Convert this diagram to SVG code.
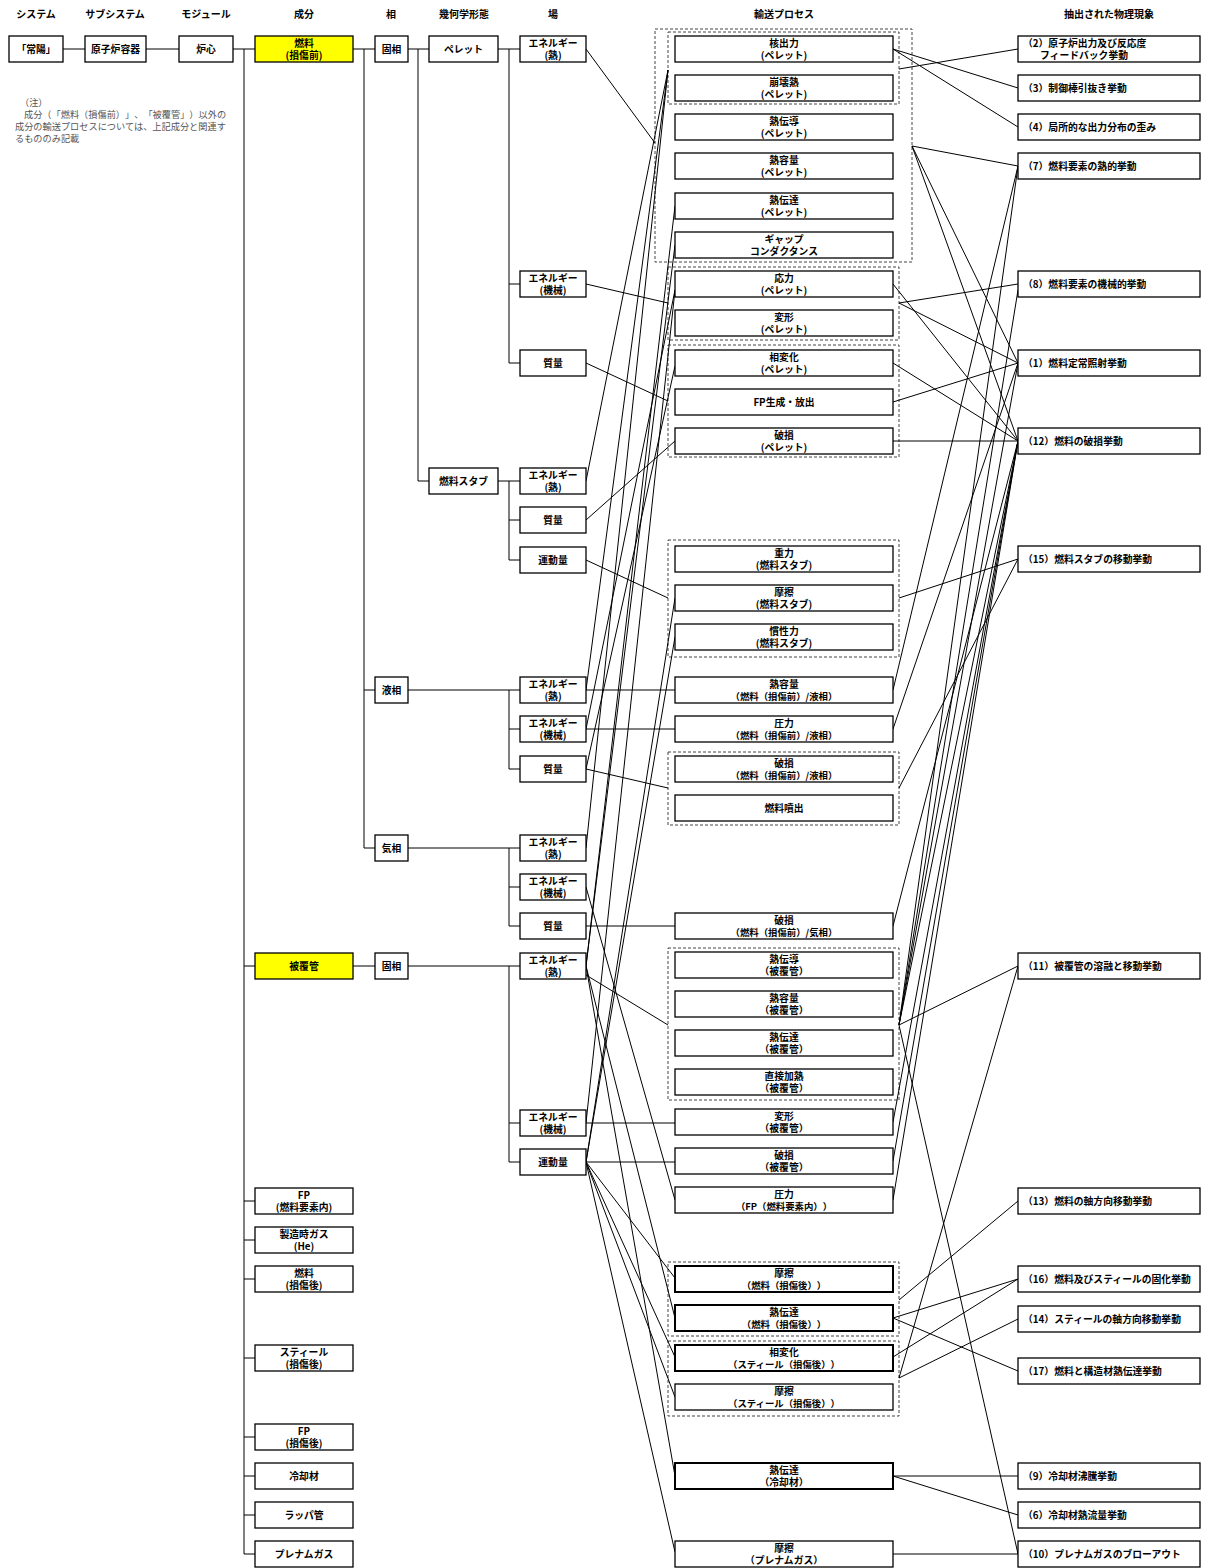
<svg xmlns="http://www.w3.org/2000/svg" width="1206" height="1568" viewBox="0 0 1206 1568">
<style>
.b{fill:#fff;stroke:#000;stroke-width:1.3}
.y{fill:#ffff00;stroke:#000;stroke-width:1.3}
.bt{fill:#fff;stroke:#000;stroke-width:2}
.d{fill:none;stroke:#444;stroke-width:1;stroke-dasharray:3,2}
.c{fill:none;stroke:#000;stroke-width:1}
text{font-family:"Noto Sans CJK JP","Noto Sans CJK SC",sans-serif;font-size:9.8px;font-weight:bold;fill:#000;text-anchor:middle;text-spacing-trim:space-all}
.h{font-size:10px}
.l{text-anchor:start}
.n{font-weight:normal;fill:#555;text-anchor:start;font-size:9.2px}
.s{font-size:9.4px}
</style>
<rect width="1206" height="1568" fill="#fff"/>
<g id="headers">
<text class="h" x="36" y="18">システム</text>
<text class="h" x="115" y="18">サブシステム</text>
<text class="h" x="206" y="18">モジュール</text>
<text class="h" x="304" y="18">成分</text>
<text class="h" x="391" y="18">相</text>
<text class="h" x="464" y="18">幾何学形態</text>
<text class="h" x="553" y="18">場</text>
<text class="h" x="784" y="18">輸送プロセス</text>
<text class="h" x="1109" y="18">抽出された物理現象</text>
</g>
<g id="note">
<text class="n" x="20" y="106">（注）</text>
<text class="n" x="24" y="118">成分（「燃料（損傷前）」、「被覆管」）以外の</text>
<text class="n" x="15" y="130">成分の輸送プロセスについては、上記成分と関連す</text>
<text class="n" x="15" y="142">るもののみ記載</text>
</g>
<g id="groups">
<rect class="d" x="655" y="29" width="257" height="233"/>
<rect class="d" x="668" y="32" width="231" height="72"/>
<rect class="d" x="668" y="267" width="231" height="73"/>
<rect class="d" x="668" y="345" width="231" height="112"/>
<rect class="d" x="668" y="540" width="231" height="117"/>
<rect class="d" x="668" y="752" width="231" height="73"/>
<rect class="d" x="668" y="948" width="231" height="152"/>
<rect class="d" x="668" y="1262" width="231" height="74"/>
<rect class="d" x="668" y="1341" width="231" height="75"/>
</g>
<g id="connectors">
<path class="c" d="M63 49H85M146 49H179M233 49H255M244 49V1554M244 966H255M244 1201H255M244 1240H255M244 1279H255M244 1358H255M244 1437H255M244 1476H255M244 1515H255M244 1554H255"/>
<path class="c" d="M353 49H375M364 49V848M364 690H375M364 848H375M353 966H375"/>
<path class="c" d="M408 49H429M418 49V481M418 481H429"/>
<path class="c" d="M498 49H520M509 49V363M509 284H520M509 363H520M498 481H520M509 481V560M509 520H520M509 560H520"/>
<path class="c" d="M408 690H520M509 690V769M509 729H520M509 769H520M408 848H520M509 848V926M509 887H520M509 926H520"/>
<path class="c" d="M408 966H520M509 966V1162M509 1123H520M509 1162H520"/>
<g id="left-links">
<path class="c" d="M586 49L655 143M586 284L668 303M586 363L668 401M586 481L668 70M586 520L675 441M586 560L668 598"/>
<path class="c" d="M586 690H675M586 690L668 70M586 729H675M586 729L675 290M586 769L668 788M586 769L675 366M586 848L668 70M586 887L675 1200M586 926H675"/>
<path class="c" d="M586 966L675 206M586 966L675 245M586 975L668 1025M586 966L675 1318M586 966L675 1476"/>
<path class="c" d="M586 1123H675M586 1123L675 290"/>
<path class="c" d="M586 1162H675M586 1162L675 598M586 1162L675 637M586 1162L675 1278M586 1162L675 1357M586 1162L675 1397M586 1162L675 1552"/>
</g>
<g id="right-links">
<path class="c" d="M893 49L1018 88M893 49L1018 127M899 69L1018 49M912 146L1018 166M912 146L1018 363M912 146L1018 441"/>
<path class="c" d="M893 284L1018 441M899 303L1018 284M899 303L1018 363M893 363L1018 441M893 402L1018 363M893 441H1018"/>
<path class="c" d="M899 598L1018 559M893 690L1018 166M893 729L1018 363M899 788L1018 559M893 926L1018 441"/>
<path class="c" d="M899 1025L1018 966M899 1025L1018 166M899 1025L1018 290M899 1025L1018 363M899 1025L1018 441M893 1122L1018 441M893 1161L1018 441M893 1200L1018 441M899 1025L1018 1554"/>
<path class="c" d="M899 1300L1018 1201M893 1318L1018 1279M893 1318L1018 1371M893 1357L1018 1279M899 1378L1018 1319M899 1378L1018 966"/>
<path class="c" d="M893 1476H1018M893 1476L1018 1515M893 1554H1018"/>
</g>
</g>
<g id="n-joyo"><rect class="b" x="9" y="36" width="54" height="26"/><text x="36" y="53">「常陽」</text></g>
<g id="n-vessel"><rect class="b" x="85" y="36" width="61" height="26"/><text x="115.5" y="53">原子炉容器</text></g>
<g id="n-core"><rect class="b" x="179" y="36" width="54" height="26"/><text x="206" y="53">炉心</text></g>
<g id="n-fuel"><rect class="y" x="255" y="36" width="98" height="26"/><text x="304" y="47">燃料</text><text x="304" y="58.5">(損傷前)</text></g>
<g id="n-clad"><rect class="y" x="255" y="953" width="98" height="26"/><text x="304" y="970">被覆管</text></g>
<g id="n-fp1"><rect class="b" x="255" y="1188" width="98" height="26"/><text x="304" y="1199">FP</text><text x="304" y="1210.5">(燃料要素内)</text></g>
<g id="n-gas"><rect class="b" x="255" y="1227" width="98" height="26"/><text x="304" y="1238">製造時ガス</text><text x="304" y="1249.5">(He)</text></g>
<g id="n-fuel2"><rect class="b" x="255" y="1266" width="98" height="26"/><text x="304" y="1277">燃料</text><text x="304" y="1288.5">(損傷後)</text></g>
<g id="n-steel"><rect class="b" x="255" y="1345" width="98" height="26"/><text x="304" y="1356">スティール</text><text x="304" y="1367.5">(損傷後)</text></g>
<g id="n-fp2"><rect class="b" x="255" y="1424" width="98" height="26"/><text x="304" y="1435">FP</text><text x="304" y="1446.5">(損傷後)</text></g>
<g id="n-coolant"><rect class="b" x="255" y="1463" width="98" height="26"/><text x="304" y="1480">冷却材</text></g>
<g id="n-wrapper"><rect class="b" x="255" y="1502" width="98" height="26"/><text x="304" y="1519">ラッパ管</text></g>
<g id="n-plenum"><rect class="b" x="255" y="1541" width="98" height="26"/><text x="304" y="1558">プレナムガス</text></g>
<g id="n-solid1"><rect class="b" x="375" y="36" width="33" height="26"/><text x="391.5" y="53">固相</text></g>
<g id="n-liquid"><rect class="b" x="375" y="677" width="33" height="26"/><text x="391.5" y="694">液相</text></g>
<g id="n-vapor"><rect class="b" x="375" y="835" width="33" height="26"/><text x="391.5" y="852">気相</text></g>
<g id="n-solid2"><rect class="b" x="375" y="953" width="33" height="26"/><text x="391.5" y="970">固相</text></g>
<g id="n-pellet"><rect class="b" x="429" y="36" width="69" height="26"/><text x="463.5" y="53">ペレット</text></g>
<g id="n-stub"><rect class="b" x="429" y="468" width="69" height="26"/><text x="463.5" y="485">燃料スタブ</text></g>
<g id="fields">
<g id="f1"><rect class="b" x="520" y="36" width="66" height="26"/><text x="553" y="47">エネルギー</text><text x="553" y="58.5">(熱)</text></g>
<g id="f2"><rect class="b" x="520" y="271" width="66" height="26"/><text x="553" y="282">エネルギー</text><text x="553" y="293.5">(機械)</text></g>
<g id="f3"><rect class="b" x="520" y="350" width="66" height="26"/><text x="553" y="367">質量</text></g>
<g id="f4"><rect class="b" x="520" y="468" width="66" height="26"/><text x="553" y="479">エネルギー</text><text x="553" y="490.5">(熱)</text></g>
<g id="f5"><rect class="b" x="520" y="507" width="66" height="26"/><text x="553" y="524">質量</text></g>
<g id="f6"><rect class="b" x="520" y="547" width="66" height="26"/><text x="553" y="564">運動量</text></g>
<g id="f7"><rect class="b" x="520" y="677" width="66" height="26"/><text x="553" y="688">エネルギー</text><text x="553" y="699.5">(熱)</text></g>
<g id="f8"><rect class="b" x="520" y="716" width="66" height="26"/><text x="553" y="727">エネルギー</text><text x="553" y="738.5">(機械)</text></g>
<g id="f9"><rect class="b" x="520" y="756" width="66" height="26"/><text x="553" y="773">質量</text></g>
<g id="f10"><rect class="b" x="520" y="835" width="66" height="26"/><text x="553" y="846">エネルギー</text><text x="553" y="857.5">(熱)</text></g>
<g id="f11"><rect class="b" x="520" y="874" width="66" height="26"/><text x="553" y="885">エネルギー</text><text x="553" y="896.5">(機械)</text></g>
<g id="f12"><rect class="b" x="520" y="913" width="66" height="26"/><text x="553" y="930">質量</text></g>
<g id="f13"><rect class="b" x="520" y="953" width="66" height="26"/><text x="553" y="964">エネルギー</text><text x="553" y="975.5">(熱)</text></g>
<g id="f14"><rect class="b" x="520" y="1110" width="66" height="26"/><text x="553" y="1121">エネルギー</text><text x="553" y="1132.5">(機械)</text></g>
<g id="f15"><rect class="b" x="520" y="1149" width="66" height="26"/><text x="553" y="1166">運動量</text></g>
</g>
<g id="processes">
<g id="p1"><rect class="b" x="675" y="36" width="218" height="26"/><text x="784" y="47">核出力</text><text x="784" y="58.5">(ペレット)</text></g>
<g id="p2"><rect class="b" x="675" y="75" width="218" height="26"/><text x="784" y="86">崩壊熱</text><text x="784" y="97.5">(ペレット)</text></g>
<g id="p3"><rect class="b" x="675" y="114" width="218" height="26"/><text x="784" y="125">熱伝導</text><text x="784" y="136.5">(ペレット)</text></g>
<g id="p4"><rect class="b" x="675" y="153" width="218" height="26"/><text x="784" y="164">熱容量</text><text x="784" y="175.5">(ペレット)</text></g>
<g id="p5"><rect class="b" x="675" y="193" width="218" height="26"/><text x="784" y="204">熱伝達</text><text x="784" y="215.5">(ペレット)</text></g>
<g id="p6"><rect class="b" x="675" y="232" width="218" height="26"/><text x="784" y="243">ギャップ</text><text x="784" y="254.5">コンダクタンス</text></g>
<g id="p7"><rect class="b" x="675" y="271" width="218" height="26"/><text x="784" y="282">応力</text><text x="784" y="293.5">(ペレット)</text></g>
<g id="p8"><rect class="b" x="675" y="310" width="218" height="26"/><text x="784" y="321">変形</text><text x="784" y="332.5">(ペレット)</text></g>
<g id="p9"><rect class="b" x="675" y="350" width="218" height="26"/><text x="784" y="361">相変化</text><text x="784" y="372.5">(ペレット)</text></g>
<g id="p10"><rect class="b" x="675" y="389" width="218" height="26"/><text x="784" y="406">FP生成・放出</text></g>
<g id="p11"><rect class="b" x="675" y="428" width="218" height="26"/><text x="784" y="439">破損</text><text x="784" y="450.5">(ペレット)</text></g>
<g id="p12"><rect class="b" x="675" y="546" width="218" height="26"/><text x="784" y="557">重力</text><text x="784" y="568.5">(燃料スタブ)</text></g>
<g id="p13"><rect class="b" x="675" y="585" width="218" height="26"/><text x="784" y="596">摩擦</text><text x="784" y="607.5">(燃料スタブ)</text></g>
<g id="p14"><rect class="b" x="675" y="624" width="218" height="26"/><text x="784" y="635">慣性力</text><text x="784" y="646.5">(燃料スタブ)</text></g>
<g id="p15"><rect class="b" x="675" y="677" width="218" height="26"/><text x="784" y="688">熱容量</text><text class="s" x="784" y="699.5">（燃料（損傷前）/液相）</text></g>
<g id="p16"><rect class="b" x="675" y="716" width="218" height="26"/><text x="784" y="727">圧力</text><text class="s" x="784" y="738.5">（燃料（損傷前）/液相）</text></g>
<g id="p17"><rect class="b" x="675" y="756" width="218" height="26"/><text x="784" y="767">破損</text><text class="s" x="784" y="778.5">（燃料（損傷前）/液相）</text></g>
<g id="p18"><rect class="b" x="675" y="795" width="218" height="26"/><text x="784" y="812">燃料噴出</text></g>
<g id="p19"><rect class="b" x="675" y="913" width="218" height="26"/><text x="784" y="924">破損</text><text class="s" x="784" y="935.5">（燃料（損傷前）/気相）</text></g>
<g id="p20"><rect class="b" x="675" y="952" width="218" height="26"/><text x="784" y="963">熱伝導</text><text x="784" y="974.5">（被覆管）</text></g>
<g id="p21"><rect class="b" x="675" y="991" width="218" height="26"/><text x="784" y="1002">熱容量</text><text x="784" y="1013.5">（被覆管）</text></g>
<g id="p22"><rect class="b" x="675" y="1030" width="218" height="26"/><text x="784" y="1041">熱伝達</text><text x="784" y="1052.5">（被覆管）</text></g>
<g id="p23"><rect class="b" x="675" y="1069" width="218" height="26"/><text x="784" y="1080">直接加熱</text><text x="784" y="1091.5">（被覆管）</text></g>
<g id="p24"><rect class="b" x="675" y="1109" width="218" height="26"/><text x="784" y="1120">変形</text><text x="784" y="1131.5">（被覆管）</text></g>
<g id="p25"><rect class="b" x="675" y="1148" width="218" height="26"/><text x="784" y="1159">破損</text><text x="784" y="1170.5">（被覆管）</text></g>
<g id="p26"><rect class="b" x="675" y="1187" width="218" height="26"/><text x="784" y="1198">圧力</text><text class="s" x="784" y="1209.5">（FP（燃料要素内））</text></g>
<g id="p27"><rect class="bt" x="675" y="1266" width="218" height="26"/><text x="784" y="1277">摩擦</text><text class="s" x="784" y="1288.5">（燃料（損傷後））</text></g>
<g id="p28"><rect class="bt" x="675" y="1305" width="218" height="26"/><text x="784" y="1316">熱伝達</text><text class="s" x="784" y="1327.5">（燃料（損傷後））</text></g>
<g id="p29"><rect class="bt" x="675" y="1345" width="218" height="26"/><text x="784" y="1356">相変化</text><text class="s" x="784" y="1367.5">（スティール（損傷後））</text></g>
<g id="p30"><rect class="b" x="675" y="1384" width="218" height="26"/><text x="784" y="1395">摩擦</text><text class="s" x="784" y="1406.5">（スティール（損傷後））</text></g>
<g id="p31"><rect class="bt" x="675" y="1463" width="218" height="26"/><text x="784" y="1474">熱伝達</text><text x="784" y="1485.5">（冷却材）</text></g>
<g id="p32"><rect class="b" x="675" y="1541" width="218" height="26"/><text x="784" y="1552">摩擦</text><text x="784" y="1563.5">（プレナムガス）</text></g>
</g>
<g id="phenomena">
<g id="e2"><rect class="b" x="1018" y="36" width="182" height="26"/><text class="l" x="1023" y="47">（2）原子炉出力及び反応度</text><text class="l" x="1040" y="58.5">フィードバック挙動</text></g>
<g id="e3"><rect class="b" x="1018" y="75" width="182" height="26"/><text class="l" x="1023" y="92">（3）制御棒引抜き挙動</text></g>
<g id="e4"><rect class="b" x="1018" y="114" width="182" height="26"/><text class="l" x="1023" y="131">（4）局所的な出力分布の歪み</text></g>
<g id="e7"><rect class="b" x="1018" y="153" width="182" height="26"/><text class="l" x="1023" y="170">（7）燃料要素の熱的挙動</text></g>
<g id="e8"><rect class="b" x="1018" y="271" width="182" height="26"/><text class="l" x="1023" y="288">（8）燃料要素の機械的挙動</text></g>
<g id="e1"><rect class="b" x="1018" y="350" width="182" height="26"/><text class="l" x="1023" y="367">（1）燃料定常照射挙動</text></g>
<g id="e12"><rect class="b" x="1018" y="428" width="182" height="26"/><text class="l" x="1023" y="445">（12）燃料の破損挙動</text></g>
<g id="e15"><rect class="b" x="1018" y="546" width="182" height="26"/><text class="l" x="1023" y="563">（15）燃料スタブの移動挙動</text></g>
<g id="e11"><rect class="b" x="1018" y="953" width="182" height="26"/><text class="l" x="1023" y="970">（11）被覆管の溶融と移動挙動</text></g>
<g id="e13"><rect class="b" x="1018" y="1188" width="182" height="26"/><text class="l" x="1023" y="1205">（13）燃料の軸方向移動挙動</text></g>
<g id="e16"><rect class="b" x="1018" y="1266" width="182" height="26"/><text class="l" x="1023" y="1283">（16）燃料及びスティールの固化挙動</text></g>
<g id="e14"><rect class="b" x="1018" y="1306" width="182" height="26"/><text class="l" x="1023" y="1323">（14）スティールの軸方向移動挙動</text></g>
<g id="e17"><rect class="b" x="1018" y="1358" width="182" height="26"/><text class="l" x="1023" y="1375">（17）燃料と構造材熱伝達挙動</text></g>
<g id="e9"><rect class="b" x="1018" y="1463" width="182" height="26"/><text class="l" x="1023" y="1480">（9）冷却材沸騰挙動</text></g>
<g id="e6"><rect class="b" x="1018" y="1502" width="182" height="26"/><text class="l" x="1023" y="1519">（6）冷却材熱流量挙動</text></g>
<g id="e10"><rect class="b" x="1018" y="1541" width="182" height="26"/><text class="l" x="1023" y="1558">（10）プレナムガスのブローアウト</text></g>
</g>
</svg>
